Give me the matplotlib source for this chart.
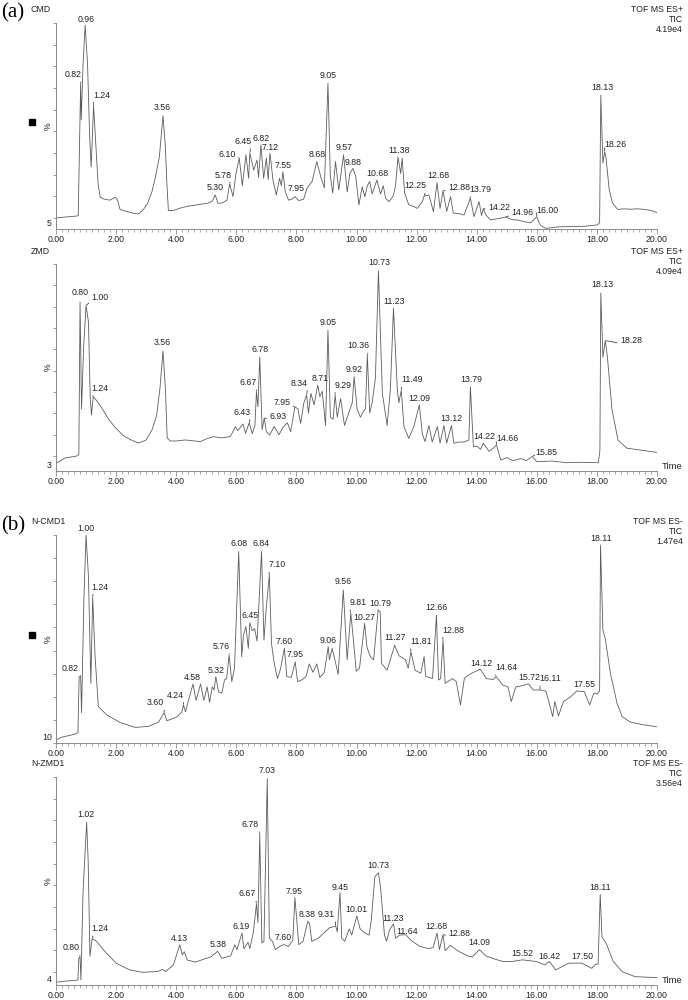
import numpy as np
import matplotlib
matplotlib.use('Agg')
import matplotlib.pyplot as plt
from matplotlib.ticker import MultipleLocator, FixedLocator

plt.rcParams['font.family'] = ['Liberation Sans', 'DejaVu Sans']

# ---- traces: time (min) and intensity (% of the plotted axis) ----
cmd_t = [0.00, 0.30, 0.69, 0.74, 0.78, 0.82, 0.84, 0.90, 0.97, 1.05, 1.12, 1.17, 1.21, 1.25, 1.33,
         1.40, 1.47, 1.60, 1.80, 1.97, 2.05, 2.13, 2.35, 2.58, 2.75, 2.91, 3.05, 3.19, 3.30, 3.44,
         3.50, 3.56, 3.64, 3.69, 3.74, 3.91, 4.10, 4.36, 4.60, 4.80, 5.05, 5.20, 5.30, 5.39, 5.52,
         5.69, 5.78, 5.89, 5.99, 6.10, 6.20, 6.32, 6.41, 6.45, 6.58, 6.69, 6.74, 6.82, 6.91, 7.00,
         7.06, 7.12, 7.22, 7.33, 7.44, 7.50, 7.55, 7.63, 7.74, 7.85, 7.95, 8.08, 8.24, 8.36, 8.52,
         8.68, 8.82, 8.93, 9.05, 9.13, 9.21, 9.30, 9.41, 9.57, 9.69, 9.78, 9.88, 9.97, 10.08, 10.19,
         10.28, 10.36, 10.44, 10.52, 10.68, 10.80, 10.89, 10.97, 11.08, 11.22, 11.30, 11.38, 11.47,
         11.52, 11.60, 11.74, 11.90, 12.02, 12.19, 12.25, 12.41, 12.56, 12.68, 12.78, 12.88, 13.00,
         13.13, 13.22, 13.40, 13.58, 13.79, 13.91, 14.08, 14.16, 14.22, 14.30, 14.46, 14.70, 14.96,
         15.20, 15.36, 15.60, 15.80, 16.00, 16.11, 16.30, 16.69, 17.13, 17.58, 18.02, 18.09, 18.13,
         18.20, 18.26, 18.30, 18.41, 18.52, 18.69, 18.90, 19.13, 19.35, 19.58, 19.80, 20.00]
cmd_i = [5.3, 5.8, 6.3, 6.5, 40, 70.7, 53, 80, 99, 80, 45, 30, 45, 60, 40,
         22, 15.5, 14.5, 14, 15.5, 14, 9.5, 8.5, 7.6, 7.3, 9.5, 12.5, 18, 24.6, 35,
         45, 55, 40, 22, 9, 9, 10, 11, 11.5, 12, 12.5, 13.5, 16.5, 12.5, 12.6,
         14, 22, 15.7, 27, 34.4, 21, 36, 24.6, 36.8, 28.6, 33.5, 25, 40.8, 24.6, 34.5,
         24, 36.8, 23.8, 16.5, 24.6, 21, 27.8, 18, 14, 14.5, 15.7, 13.8, 14.5, 20, 23,
         32.7, 24.8, 20, 70.7, 25.4, 17.5, 32.7, 19, 36, 18, 27, 29.4, 26, 11.7, 20.5,
         15.7, 21, 23, 17, 23.8, 17, 21, 14.9, 13.3, 16, 21, 35, 27,
         34.4, 17.5, 11.7, 11, 10, 13.3, 16, 16.5, 8.4, 22.5, 10, 18.6, 8.5,
         15.7, 7.7, 7.5, 6.8, 14.9, 6, 13.3, 6.5, 10, 7, 4.4, 5, 5.8,
         4.5, 4.4, 3.5, 3, 6, 2, 0.3, 1, 1.2, 1.3, 2, 3, 65,
         32, 37.5, 35, 19, 12.6, 9.5, 9.8, 9.6, 9.8, 9.5, 9, 8]

zmd_t = [0.00, 0.30, 0.69, 0.76, 0.80, 0.85, 0.92, 1.00, 1.08, 1.14, 1.18, 1.24, 1.35, 1.50, 1.75,
         2.00, 2.25, 2.50, 2.75, 3.00, 3.20, 3.35, 3.46, 3.56, 3.64, 3.70, 3.80, 4.00, 4.30, 4.60,
         4.80, 5.00, 5.24, 5.50, 5.80, 5.97, 6.05, 6.22, 6.31, 6.43, 6.53, 6.62, 6.67, 6.72, 6.78,
         6.86, 6.93, 7.00, 7.11, 7.26, 7.42, 7.55, 7.70, 7.81, 7.95, 8.05, 8.14, 8.25, 8.34, 8.40,
         8.48, 8.59, 8.71, 8.78, 8.86, 8.97, 9.05, 9.13, 9.22, 9.29, 9.36, 9.47, 9.60, 9.74, 9.86,
         9.92, 10.02, 10.13, 10.24, 10.30, 10.36, 10.44, 10.52, 10.63, 10.73, 10.86, 11.02, 11.13,
         11.23, 11.36, 11.41, 11.49, 11.58, 11.74, 11.91, 12.09, 12.19, 12.28, 12.41, 12.52, 12.69,
         12.78, 12.91, 13.00, 13.16, 13.24, 13.40, 13.58, 13.74, 13.79, 13.89, 14.00, 14.13, 14.22,
         14.41, 14.55, 14.66, 14.80, 15.00, 15.20, 15.47, 15.65, 15.85, 16.00, 16.50, 17.00, 17.50,
         18.05, 18.10, 18.13, 18.20, 18.28, 18.35, 18.50, 18.70, 19.00, 19.50, 20.00]
zmd_i = [3.7, 6.3, 7.2, 8, 81.6, 30, 60, 80, 72, 35, 27, 36, 34, 31, 25,
         20.5, 17, 15, 13.5, 15, 20, 27, 40, 58, 40, 16, 14.5, 14.5, 15, 14.5,
         14.2, 15.5, 16.6, 16, 16.6, 21.4, 19.5, 22.7, 18.2, 23.3, 18, 22, 38.3, 31, 55,
         20, 25.6, 19, 17.4, 21.5, 17.5, 21, 23.3, 19, 31, 30, 23, 33, 36.7, 28,
         37.5, 32, 41.5, 36, 38.5, 22, 68, 26, 25, 36.7, 26, 35, 22, 28, 33,
         45.6, 30, 26, 29, 30, 56, 28, 33, 45, 96.6, 37.5, 22, 40,
         78.6, 39, 33, 39, 21.4, 15.8, 21.5, 32, 18, 14.2, 22, 14, 21.5,
         13.5, 22, 13.5, 22, 13.4, 14, 14, 15, 40.7, 11.7, 12, 10.5, 13.4,
         9.5, 11, 12.6, 5.3, 6.5, 5, 6, 5, 7, 4.5, 4.8, 4, 4.2,
         4, 10, 86, 55, 63, 55, 30, 15, 11, 10, 9]

ncmd_t = [0.00, 0.17, 0.40, 0.64, 0.73, 0.77, 0.82, 0.85, 0.93, 1.00, 1.08, 1.16, 1.22, 1.30, 1.41,
          1.69, 2.14, 2.64, 3.08, 3.41, 3.60, 3.69, 4.02, 4.19, 4.24, 4.31, 4.40, 4.56, 4.66, 4.81,
          4.92, 5.03, 5.11, 5.20, 5.26, 5.32, 5.41, 5.52, 5.61, 5.68, 5.76, 5.85, 5.94, 6.08, 6.18,
          6.24, 6.32, 6.40, 6.45, 6.53, 6.61, 6.69, 6.84, 6.92, 7.00, 7.10, 7.17, 7.26, 7.37, 7.47,
          7.60, 7.68, 7.83, 7.96, 8.04, 8.20, 8.32, 8.43, 8.55, 8.68, 8.78, 8.93, 9.06, 9.10, 9.19,
          9.28, 9.39, 9.56, 9.69, 9.81, 9.90, 9.99, 10.10, 10.27, 10.35, 10.46, 10.57, 10.72, 10.79,
          10.83, 11.02, 11.27, 11.41, 11.63, 11.72, 11.81, 11.95, 12.14, 12.25, 12.30, 12.53, 12.66,
          12.73, 12.80, 12.88, 12.95, 13.20, 13.32, 13.46, 13.59, 13.76, 14.04, 14.12, 14.32, 14.54,
          14.65, 14.87, 15.04, 15.15, 15.30, 15.50, 15.72, 15.88, 16.11, 16.30, 16.38, 16.53, 16.60,
          16.72, 16.89, 17.11, 17.33, 17.58, 17.76, 17.90, 18.00, 18.09, 18.12, 18.20, 18.28, 18.45,
          18.67, 18.84, 19.12, 19.57, 20.00]
ncmd_i = [1.4, 2.7, 3.5, 4.3, 5, 31.9, 32, 14.6, 70, 100, 80, 28.7, 70.3, 41.5, 17.5,
          13.5, 9.8, 7.5, 8, 10, 14.6, 10.7, 12.5, 15, 18.3, 15, 20, 28.4, 20.5, 28.4,
          20.5, 27, 19.5, 27, 25.5, 31.9, 24.5, 24, 30.5, 31, 42.3, 29.5, 36, 92, 41.5,
          52, 56, 45.5, 57.8, 54, 55, 49, 92, 49.5, 65.5, 80.8, 48, 38.5, 31, 35.5,
          45.5, 32, 31.5, 39, 29.5, 30.5, 32, 38, 34, 38, 31.5, 34, 46.3, 40, 45.5,
          40, 33, 73.6, 40, 62.5, 49, 34.5, 36, 57.5, 46, 41.5, 40, 64, 63,
          38.3, 35, 47, 42, 40, 36, 43.9, 35, 33.5, 41.5, 32, 31, 61.5,
          30.3, 31, 49.5, 28.7, 31, 29.5, 18.3, 31.1, 33, 35, 35.5, 31, 30.5,
          31.9, 27.8, 27, 19.9, 27, 27.5, 28.4, 25.5, 25.5, 25, 21, 12.7, 20,
          13, 20, 22, 25, 24.7, 18.3, 24, 23.5, 25, 95.2, 54.3, 50, 33.5,
          19.1, 12.7, 10, 8.7, 7.8]

nzmd_t = [0.00, 0.25, 0.69, 0.73, 0.76, 0.80, 0.83, 0.90, 1.02, 1.07, 1.13, 1.20, 1.35, 1.57, 2.00,
          2.44, 2.88, 3.39, 3.54, 3.65, 3.91, 4.12, 4.20, 4.27, 4.37, 4.64, 4.93, 5.15, 5.38, 5.52,
          5.81, 5.95, 6.02, 6.19, 6.25, 6.39, 6.45, 6.57, 6.67, 6.72, 6.78, 6.85, 6.92, 7.03, 7.10,
          7.20, 7.30, 7.49, 7.60, 7.73, 7.88, 7.95, 8.08, 8.22, 8.38, 8.44, 8.51, 8.73, 8.95, 9.10,
          9.31, 9.36, 9.45, 9.51, 9.61, 9.76, 9.84, 10.01, 10.12, 10.27, 10.42, 10.49, 10.61, 10.73,
          10.80, 10.93, 11.00, 11.10, 11.23, 11.30, 11.44, 11.64, 11.81, 12.10, 12.39, 12.55, 12.68,
          12.76, 12.88, 12.95, 13.12, 13.42, 13.71, 13.85, 14.09, 14.30, 14.59, 14.88, 15.18, 15.52,
          15.98, 16.27, 16.42, 16.63, 17.07, 17.50, 17.83, 17.95, 18.04, 18.11, 18.17, 18.31, 18.54,
          18.83, 19.27, 19.93, 20.00]
nzmd_i = [1.3, 1.8, 2.3, 2.5, 13, 13.5, 2.5, 45, 78.3, 60, 13.8, 22.3, 21, 17, 10.5,
          7.3, 6.1, 6.5, 7.5, 6.5, 9.7, 19.4, 14.5, 16, 12, 11, 12.5, 13.5, 16.2, 12.8,
          14, 19.4, 17, 25, 17.5, 20.5, 17.5, 25.5, 39, 30, 72.6, 20.2, 21, 99.2, 22.6,
          21, 17, 19, 19.4, 18.5, 21.5, 42, 19.4, 21, 30.7, 29.5, 21, 22.5, 25.5, 27.5,
          28.3, 25.5, 44.4, 22.5, 21, 27, 24, 33.1, 27, 25, 24, 31, 52, 54,
          47, 24, 21, 26.5, 29.4, 22.5, 24, 24.2, 21.5, 18.6, 17.5, 18, 25,
          17, 24.2, 16.5, 19, 16, 14, 13.5, 17, 14, 12.5, 11.3, 11.3, 12.1,
          11.3, 9.7, 11.3, 7.3, 10.5, 10.5, 8, 10, 10, 43.6, 23, 20, 11.5,
          6.5, 4, 3.6, 3.6]

# ---- peak labels: retention time text and where the text sits ----
cmd_lab = ['0.82', '0.96', '1.24', '3.56', '5.30', '5.78', '6.10', '6.45', '6.82', '7.12', '7.55',
           '7.95', '8.68', '9.05', '9.57', '9.88', '10.68', '11.38', '12.25', '12.68', '12.88',
           '13.79', '14.22', '14.96', '16.00', '18.13', '18.26']
cmd_lab_t = [0.57, 1.00, 1.53, 3.53, 5.30, 5.56, 5.69, 6.21, 6.83, 7.13, 7.56, 7.99, 8.69, 9.06,
             9.58, 9.89, 10.69, 11.41, 11.97, 12.71, 13.41, 14.13, 14.74, 15.52, 16.36, 18.17, 18.63]
cmd_lab_i = [75, 101.5, 65, 59, 20, 26.2, 36.3, 42.4, 44, 39.5, 31, 19.5, 36, 74.5, 39.5, 32.5,
             27, 38, 20.9, 26, 20, 19.3, 10.5, 8.1, 9.2, 68.5, 40.8]

zmd_lab = ['0.80', '1.00', '1.24', '3.56', '6.43', '6.67', '6.78', '6.93', '7.95', '8.34', '8.71',
           '9.05', '9.29', '9.92', '10.36', '10.73', '11.23', '11.49', '12.09', '13.12', '13.79',
           '14.22', '14.66', '15.85', '18.13', '18.28']
zmd_lab_t = [0.80, 1.47, 1.47, 3.53, 6.19, 6.41, 6.80, 7.38, 7.52, 8.10, 8.79, 9.06, 9.56, 9.93,
             10.06, 10.77, 11.24, 11.86, 12.10, 13.16, 13.82, 14.24, 15.02, 16.30, 18.17, 19.13]
zmd_lab_i = [86, 83.6, 40, 62.3, 28.3, 42.7, 58.5, 26.2, 33.2, 42.4, 44.5, 71.5, 41.5, 49,
             60.4, 100.5, 82, 44, 35, 25.5, 44, 16.5, 15.5, 9, 90, 63]

ncmd_lab = ['0.82', '1.00', '1.24', '3.60', '4.24', '4.58', '5.32', '5.76', '6.08', '6.45', '6.84',
            '7.10', '7.60', '7.95', '9.06', '9.56', '9.81', '10.27', '10.79', '11.27', '11.81',
            '12.66', '12.88', '14.12', '14.64', '15.72', '16.11', '17.55', '18.11']
ncmd_lab_t = [0.48, 1.00, 1.47, 3.31, 3.97, 4.55, 5.32, 5.51, 6.08, 6.45, 6.84, 7.36, 7.60, 7.96,
              9.06, 9.56, 10.04, 10.27, 10.80, 11.27, 12.14, 12.66, 13.22, 14.15, 14.98, 15.74,
              16.46, 17.58, 18.14]
ncmd_lab_i = [35.9, 103, 75, 19.4, 23, 31.5, 35, 46.3, 96, 61.5, 96, 85.6, 49, 42.5, 49.5, 77.5,
              67.5, 60.5, 67, 50.5, 48.7, 65, 54.3, 38, 36.2, 31.5, 30.8, 28, 98.5]

nzmd_lab = ['0.80', '1.02', '1.24', '4.13', '5.38', '6.19', '6.67', '6.78', '7.03', '7.60', '7.95',
            '8.38', '9.31', '9.45', '10.01', '10.73', '11.23', '11.64', '12.68', '12.88', '14.09',
            '15.52', '16.42', '17.50', '18.11']
nzmd_lab_t = [0.50, 1.00, 1.45, 4.10, 5.38, 6.17, 6.35, 6.47, 7.03, 7.56, 7.92, 8.36, 9.00, 9.45,
              10.00, 10.73, 11.23, 11.68, 12.66, 13.42, 14.09, 15.52, 16.42, 17.50, 18.11]
nzmd_lab_i = [17.8, 82, 27.1, 22.5, 19.5, 28, 43.9, 77.1, 103, 22.6, 45, 34, 33.9, 47, 36.5, 57.5,
              32, 25.8, 28, 25, 20.5, 15, 13.5, 13.5, 47]

sample_names = ['CMD', 'ZMD', 'N-CMD1', 'N-ZMD1']
scan_modes = ['TOF MS ES+', 'TOF MS ES+', 'TOF MS ES-', 'TOF MS ES-']
max_counts = ['4.19e4', '4.09e4', '1.47e4', '3.56e4']
axis_offsets = [5, 3, 10, 4]   # % value printed at the bottom of each y axis

traces = [(cmd_t, cmd_i), (zmd_t, zmd_i), (ncmd_t, ncmd_i), (nzmd_t, nzmd_i)]
labels = [(cmd_lab, cmd_lab_t, cmd_lab_i), (zmd_lab, zmd_lab_t, zmd_lab_i),
          (ncmd_lab, ncmd_lab_t, ncmd_lab_i), (nzmd_lab, nzmd_lab_t, nzmd_lab_i)]

W, H = 688, 1000
fig = plt.figure(figsize=(W / 100, H / 100), dpi=100)

# axes boxes in pixels: (top, bottom)
boxes = [(23, 229), (264, 471), (535, 743), (777, 985)]
x0, x1 = 56, 657

line_col = '#5c5c5c'
axis_col = '#8a8a8a'
txt_col = '#222222'
fs = 6.3


def peak_height(t, y, rt):
    near = [yy for tt, yy in zip(t, y) if abs(tt - rt) <= 0.06]
    if near:
        return max(near)
    return float(np.interp(rt, t, y))


for k in range(4):
    top, bot = boxes[k]
    ax = fig.add_axes([x0 / W, 1 - bot / H, (x1 - x0) / W, (bot - top) / H])
    t, y = traces[k]
    ax.plot(t, y, color=line_col, lw=0.6)
    ax.set_xlim(0, 20)
    ax.set_ylim(0, 100)
    for s in ['top', 'right']:
        ax.spines[s].set_visible(False)
    for s in ['left', 'bottom']:
        ax.spines[s].set_color(axis_col)
        ax.spines[s].set_linewidth(0.7)

    ax.xaxis.set_major_locator(MultipleLocator(2))
    ax.xaxis.set_minor_locator(MultipleLocator(0.2))
    ax.xaxis.set_major_formatter(plt.FuncFormatter(lambda v, p: '%.2f' % v))
    ax.tick_params(axis='x', which='major', length=3.5, width=0.6, color=axis_col,
                   labelsize=fs, pad=0.5, labelcolor=txt_col)
    ax.tick_params(axis='x', which='minor', length=2, width=0.5, color=axis_col)

    m = axis_offsets[k]
    yt = [(v - m) / (100 - m) * 100 for v in range(10, 101, 10) if v >= m]
    ax.yaxis.set_major_locator(FixedLocator(yt))
    ax.tick_params(axis='y', which='major', length=2.5, width=0.6, color=axis_col, labelleft=False)

    # peak labels
    lab, lt, li = labels[k]
    for name, tx, ty in zip(lab, lt, li):
        rt = float(name)
        pk = peak_height(t, y, rt)
        if abs(tx - rt) > 0.15:
            rel = (1.0, 0.2) if tx < rt else (0.0, 0.2)
            ax.annotate(name, xy=(rt, pk), xytext=(tx, ty), ha='center', va='center',
                        fontsize=fs, color=txt_col, annotation_clip=False,
                        arrowprops=dict(arrowstyle='-', color='#444444', lw=0.6,
                                        shrinkA=0, shrinkB=0.5, relpos=rel))
        else:
            ax.text(tx, ty, name, ha='center', va='center', fontsize=fs, color=txt_col,
                    clip_on=False)

    # y axis decorations
    ax.text(-8 / (x1 - x0), 0.5, '%', rotation=90, ha='center', va='center', fontsize=fs,
            color=txt_col, transform=ax.transAxes)
    ax.text(-4 / (x1 - x0), 0.025, str(m), ha='right', va='center', fontsize=fs,
            color=txt_col, transform=ax.transAxes)
    if k in (0, 2):
        ax.plot([-24 / (x1 - x0)], [0.52], marker='s', ms=4.5, color='black',
                transform=ax.transAxes, clip_on=False)
    if k in (1, 3):
        ax.text(1 + 5 / (x1 - x0), 0.0, 'Time', ha='left', va='bottom', fontsize=fs + 0.5,
                color=txt_col, transform=ax.transAxes)

    # header lines
    fig.text(31 / W, 1 - (top - 13) / H, sample_names[k], ha='left', va='center',
             fontsize=fs, color=txt_col)
    for j, s in enumerate([scan_modes[k], 'TIC', max_counts[k]]):
        fig.text(683 / W, 1 - (top - 13 + 10 * j) / H, s, ha='right', va='center',
                 fontsize=fs, color=txt_col)

fig.text(1 / W, 1 - 13 / H, '(a)', family=['Liberation Serif', 'DejaVu Serif'], fontsize=15,
         ha='left', va='center', color='black')
fig.text(1 / W, 1 - 526 / H, '(b)', family=['Liberation Serif', 'DejaVu Serif'], fontsize=15,
         ha='left', va='center', color='black')

fig.savefig('out.png', dpi=100, facecolor='white')
